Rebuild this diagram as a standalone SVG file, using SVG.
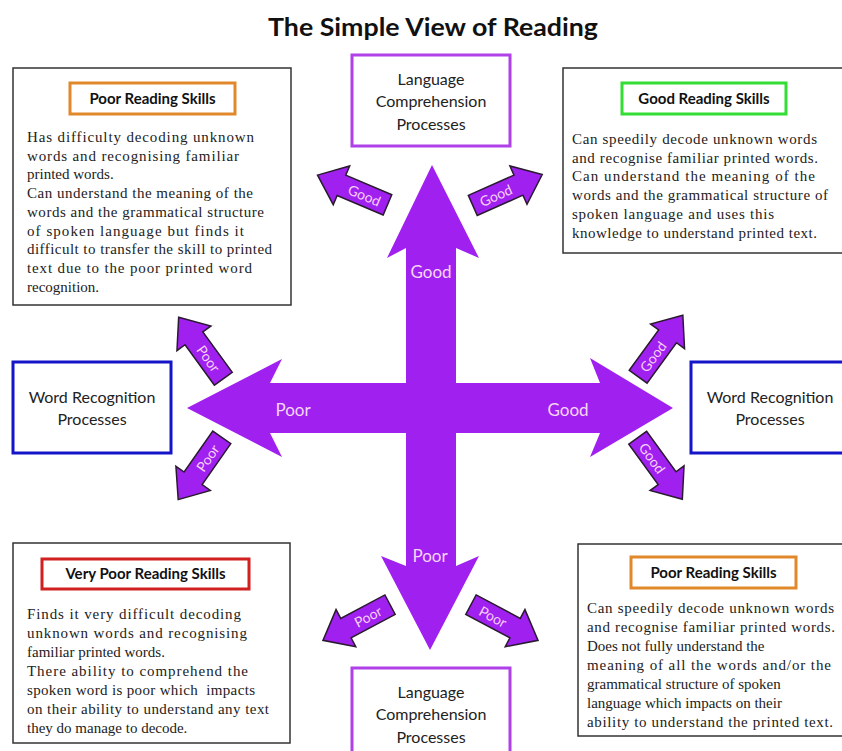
<svg xmlns="http://www.w3.org/2000/svg" xmlns:xlink="http://www.w3.org/1999/xlink" width="842" height="751" viewBox="0 0 842 751">
<style>
.title{font-family:Lato,"DejaVu Sans",sans-serif;font-weight:bold;font-size:24px;fill:#111;text-anchor:middle}
.box{fill:#fff;stroke:#333;stroke-width:1.5}
.proc{fill:#fff;stroke-width:3}
.plabel{font-family:Lato,"DejaVu Sans",sans-serif;font-size:16px;fill:#222;text-anchor:middle}
.hlabel{font-family:Lato,"DejaVu Sans",sans-serif;font-weight:bold;font-size:15px;fill:#111;text-anchor:middle}
.body{font-family:"Liberation Serif","Times New Roman",serif;font-size:15px;fill:#222}
.big{font-family:Lato,"DejaVu Sans",sans-serif;font-size:17px;fill:#f6d6f6;text-anchor:middle}
.st{font-family:Lato,"DejaVu Sans",sans-serif;font-size:14px;fill:#f6d0f6;text-anchor:middle;dominant-baseline:central}
.sa{fill:#a020f0;stroke:#2a1a30;stroke-width:1.5;stroke-linejoin:miter}
</style>
<defs>
<polygon id="sa" class="sa" points="-38,-11 12,-11 12,-21 38,0 12,21 12,11 -38,11"/>
</defs>
<rect width="842" height="751" fill="#fff"/>
<text class="title" x="433" y="36" textLength="330" lengthAdjust="spacingAndGlyphs">The Simple View of Reading</text>

<g id="connectors">
<polygon id="cross" fill="#a020f0" points="432,165 479,258 456,248 456,383 600,383 590,358 673,408 590,457 600,433 456,433 456,566 479,556 430,650 381,556 406,566 406,433 270,433 282,457 187,408 282,359 270,383 406,383 406,248 387,258"/>
<text class="big" x="431" y="278">Good</text>
<text class="big" x="293" y="416">Poor</text>
<text class="big" x="568" y="416">Good</text>
<text class="big" x="430" y="562">Poor</text>

<g id="arrow-tl" transform="translate(352.5,190) rotate(203)"><use xlink:href="#sa"/><text class="st" x="-13" y="0" transform="rotate(180 -13 0)">Good</text></g>
<g id="arrow-tr" transform="translate(507.5,190) rotate(-24)"><use xlink:href="#sa"/><text class="st" x="-13" y="0">Good</text></g>
<g id="arrow-lu" transform="translate(201,348) rotate(234)"><use xlink:href="#sa"/><text class="st" x="-13" y="0" transform="rotate(180 -13 0)">Poor</text></g>
<g id="arrow-ll" transform="translate(200,468.5) rotate(125)"><use xlink:href="#sa"/><text class="st" x="-13" y="0" transform="rotate(180 -13 0)">Poor</text></g>
<g id="arrow-ru" transform="translate(660.5,346) rotate(-54)"><use xlink:href="#sa"/><text class="st" x="-13" y="0">Good</text></g>
<g id="arrow-rl" transform="translate(660,468.5) rotate(54)"><use xlink:href="#sa"/><text class="st" x="-13" y="0">Good</text></g>
<g id="arrow-bl" transform="translate(356.5,622.5) rotate(152)"><use xlink:href="#sa"/><text class="st" x="-13" y="0" transform="rotate(180 -13 0)">Poor</text></g>
<g id="arrow-br" transform="translate(504.5,622.5) rotate(28)"><use xlink:href="#sa"/><text class="st" x="-13" y="0">Poor</text></g>
</g>

<g id="lang-top">
<rect class="proc" x="352" y="55" width="158" height="91" stroke="#b040e8"/>
<text class="plabel" x="431" y="85">Language</text>
<text class="plabel" x="431" y="107">Comprehension</text>
<text class="plabel" x="431" y="130">Processes</text>
</g>

<g id="lang-bottom">
<rect class="proc" x="352" y="668" width="158" height="90" stroke="#b040e8"/>
<text class="plabel" x="431" y="698">Language</text>
<text class="plabel" x="431" y="720">Comprehension</text>
<text class="plabel" x="431" y="743">Processes</text>
</g>

<g id="word-left">
<rect class="proc" x="13" y="362" width="158" height="91" stroke="#1414c8"/>
<text class="plabel" x="92" y="403">Word Recognition</text>
<text class="plabel" x="92" y="425">Processes</text>
</g>

<g id="word-right">
<rect class="proc" x="691" y="362" width="158" height="91" stroke="#1414c8"/>
<text class="plabel" x="770" y="403">Word Recognition</text>
<text class="plabel" x="770" y="425">Processes</text>
</g>

<g id="poor-tl">
<rect class="box" x="13" y="68" width="278" height="237"/>
<rect x="70" y="83" width="165" height="31" fill="#fff" stroke="#e0882a" stroke-width="3"/>
<text class="hlabel" x="152.5" y="104">Poor Reading Skills</text>
<text class="body" x="27" y="142" textLength="227" lengthAdjust="spacing">Has difficulty decoding unknown</text>
<text class="body" x="27" y="160.7" textLength="212" lengthAdjust="spacing">words and recognising familiar</text>
<text class="body" x="27" y="179.4">printed words.</text>
<text class="body" x="27" y="198.1" textLength="226" lengthAdjust="spacing">Can understand the meaning of the</text>
<text class="body" x="27" y="216.8" textLength="237" lengthAdjust="spacing">words and the grammatical structure</text>
<text class="body" x="27" y="235.5" textLength="217" lengthAdjust="spacing">of spoken language but finds it</text>
<text class="body" x="27" y="254.2" textLength="245" lengthAdjust="spacing">difficult to transfer the skill to printed</text>
<text class="body" x="27" y="272.9" textLength="225" lengthAdjust="spacing">text due to the poor printed word</text>
<text class="body" x="27" y="291.6">recognition.</text>
</g>

<g id="good-tr">
<rect class="box" x="563" y="68" width="286" height="185"/>
<rect x="622" y="83" width="164" height="31" fill="#fff" stroke="#33dd33" stroke-width="3"/>
<text class="hlabel" x="704" y="104">Good Reading Skills</text>
<text class="body" x="572" y="144" textLength="245" lengthAdjust="spacing">Can speedily decode unknown words</text>
<text class="body" x="572" y="162.7" textLength="246" lengthAdjust="spacing">and recognise familiar printed words.</text>
<text class="body" x="572" y="181.4" textLength="243" lengthAdjust="spacing">Can understand the meaning of the</text>
<text class="body" x="572" y="200.1" textLength="256" lengthAdjust="spacing">words and the grammatical structure of</text>
<text class="body" x="572" y="218.8" textLength="202" lengthAdjust="spacing">spoken language and uses this</text>
<text class="body" x="572" y="237.5" textLength="245" lengthAdjust="spacing">knowledge to understand printed text.</text>
</g>

<g id="verypoor-bl">
<rect class="box" x="13" y="543" width="277" height="200"/>
<rect x="42" y="559" width="207" height="30" fill="#fff" stroke="#d02020" stroke-width="3"/>
<text class="hlabel" x="145.5" y="579">Very Poor Reading Skills</text>
<text class="body" x="27" y="619" textLength="214" lengthAdjust="spacing">Finds it very difficult decoding</text>
<text class="body" x="27" y="638" textLength="220" lengthAdjust="spacing">unknown words and recognising</text>
<text class="body" x="27" y="657">familiar printed words.</text>
<text class="body" x="27" y="676" textLength="221" lengthAdjust="spacing">There ability to comprehend the</text>
<text class="body" x="27" y="695" textLength="228" lengthAdjust="spacing" xml:space="preserve">spoken word is poor which  impacts</text>
<text class="body" x="27" y="714" textLength="242" lengthAdjust="spacing">on their ability to understand any text</text>
<text class="body" x="27" y="733">they do manage to decode.</text>
</g>

<g id="poor-br">
<rect class="box" x="578" y="544" width="271" height="192"/>
<rect x="631" y="557" width="165" height="31" fill="#fff" stroke="#e0882a" stroke-width="3"/>
<text class="hlabel" x="713.5" y="578">Poor Reading Skills</text>
<text class="body" x="587" y="613" textLength="247" lengthAdjust="spacing">Can speedily decode unknown words</text>
<text class="body" x="587" y="632" textLength="248" lengthAdjust="spacing">and recognise familiar printed words.</text>
<text class="body" x="587" y="651">Does not fully understand the</text>
<text class="body" x="587" y="670" textLength="244" lengthAdjust="spacing">meaning of all the words and/or the</text>
<text class="body" x="587" y="689">grammatical structure of spoken</text>
<text class="body" x="587" y="708">language which impacts on their</text>
<text class="body" x="587" y="727" textLength="246" lengthAdjust="spacing">ability to understand the printed text.</text>
</g>
</svg>
